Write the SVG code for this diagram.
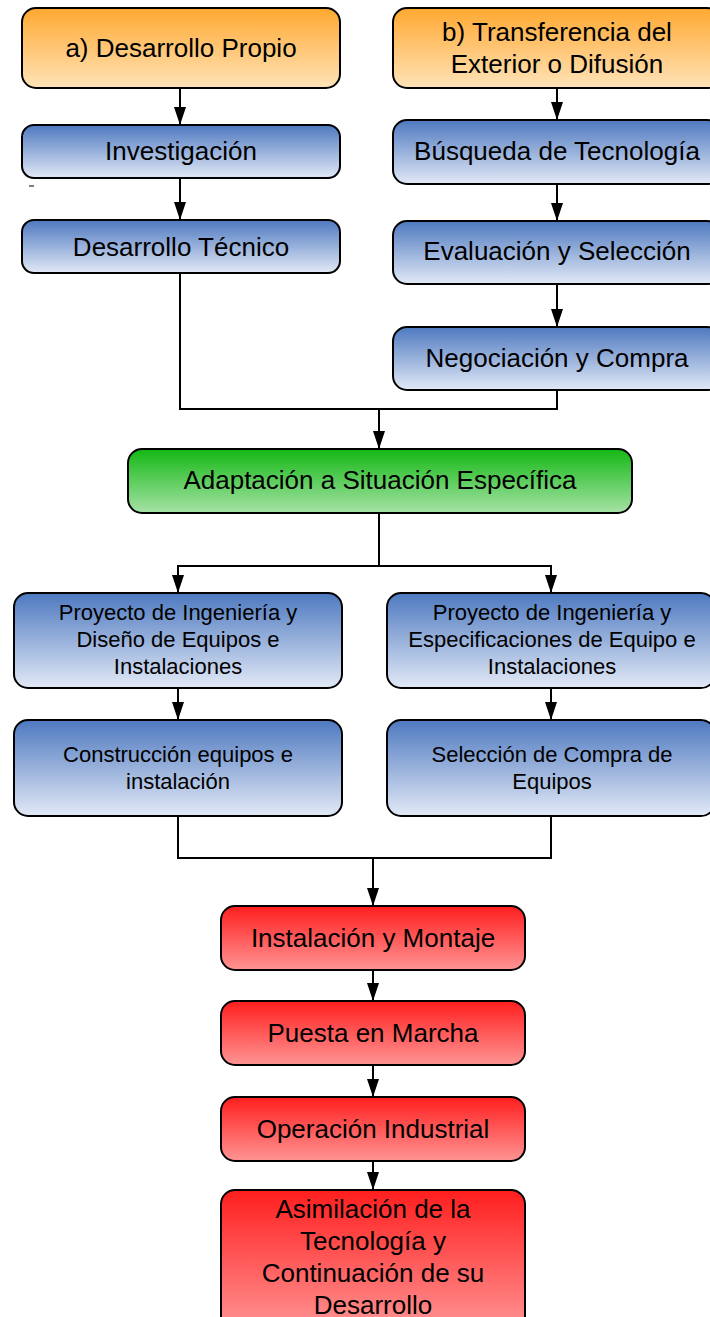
<svg xmlns="http://www.w3.org/2000/svg" width="710" height="1317" viewBox="0 0 710 1317">
<defs>
<linearGradient id="gO" x1="0" y1="0" x2="0" y2="1"><stop offset="0" stop-color="#FFA830"/><stop offset="1" stop-color="#FFE3B8"/></linearGradient>
<linearGradient id="gB" x1="0" y1="0" x2="0" y2="1"><stop offset="0" stop-color="#4E79C0"/><stop offset="1" stop-color="#E2E9F6"/></linearGradient>
<linearGradient id="gG" x1="0" y1="0" x2="0" y2="1"><stop offset="0" stop-color="#14B814"/><stop offset="1" stop-color="#A6E2A6"/></linearGradient>
<linearGradient id="gR" x1="0" y1="0" x2="0" y2="1"><stop offset="0" stop-color="#FF1E1E"/><stop offset="1" stop-color="#FF9494"/></linearGradient>
<marker id="arr" markerWidth="18" markerHeight="12" refX="18" refY="6" orient="auto" markerUnits="userSpaceOnUse" viewBox="0 0 18 12"><path d="M0,0 L18,6 L0,12 Z" fill="#000"/></marker>
</defs>
<style>
.box{stroke:#000;stroke-width:2}
.o{fill:url(#gO)}.b{fill:url(#gB)}.g{fill:url(#gG)}.r{fill:url(#gR)}
text{font-family:"Liberation Sans",Arial,sans-serif;fill:#000;text-anchor:middle}
.t{font-size:26px}.s{font-size:22px}
.c{fill:none;stroke:#000;stroke-width:2}
</style>
<rect width="710" height="1317" fill="#fff"/>
<g id="connectors">
<path class="c" d="M180,88 V125" marker-end="url(#arr)"/>
<path class="c" d="M180,178 V220" marker-end="url(#arr)"/>
<path class="c" d="M557,88 V120" marker-end="url(#arr)"/>
<path class="c" d="M557,184 V221" marker-end="url(#arr)"/>
<path class="c" d="M557,284 V327" marker-end="url(#arr)"/>
<path class="c" d="M180,273 V409 H557 V390"/>
<path class="c" d="M379,409 V449" marker-end="url(#arr)"/>
<path class="c" d="M379,513 V566 H178 V593" marker-end="url(#arr)"/>
<path class="c" d="M379,566 H551 V593" marker-end="url(#arr)"/>
<path class="c" d="M178,688 V720" marker-end="url(#arr)"/>
<path class="c" d="M551,688 V720" marker-end="url(#arr)"/>
<path class="c" d="M178,816 V858 H551 V816"/>
<path class="c" d="M373,858 V906" marker-end="url(#arr)"/>
<path class="c" d="M373,970 V1001" marker-end="url(#arr)"/>
<path class="c" d="M373,1065 V1097" marker-end="url(#arr)"/>
<path class="c" d="M373,1161 V1190" marker-end="url(#arr)"/>
<line x1="29" y1="186" x2="34" y2="186" stroke="#000" stroke-width="1"/>
</g>
<g id="n1"><rect class="box o" x="22" y="8" width="318" height="80" rx="14"/><text class="t" x="181" y="57">a) Desarrollo Propio</text></g>
<g id="n2"><rect class="box b" x="22" y="125" width="318" height="53" rx="12"/><text class="t" x="181" y="160">Investigación</text></g>
<g id="n3"><rect class="box b" x="22" y="220" width="318" height="53" rx="12"/><text class="t" x="181" y="256">Desarrollo Técnico</text></g>
<g id="n4"><rect class="box o" x="393" y="8" width="328" height="80" rx="14"/><text class="t" x="557" y="41">b) Transferencia del</text><text class="t" x="557" y="73">Exterior o Difusión</text></g>
<g id="n5"><rect class="box b" x="393" y="120" width="328" height="64" rx="14"/><text class="t" x="557" y="160">Búsqueda de Tecnología</text></g>
<g id="n6"><rect class="box b" x="393" y="221" width="328" height="63" rx="14"/><text class="t" x="557" y="260">Evaluación y Selección</text></g>
<g id="n7"><rect class="box b" x="393" y="327" width="328" height="63" rx="14"/><text class="t" x="557" y="367">Negociación y Compra</text></g>
<g id="n8"><rect class="box g" x="128" y="449" width="504" height="64" rx="14"/><text class="t" x="380" y="489">Adaptación a Situación Específica</text></g>
<g id="n9"><rect class="box b" x="14" y="593" width="328" height="95" rx="14"/><text class="s" x="178" y="620">Proyecto de Ingeniería y</text><text class="s" x="178" y="647">Diseño de Equipos e</text><text class="s" x="178" y="674">Instalaciones</text></g>
<g id="n10"><rect class="box b" x="387" y="593" width="328" height="95" rx="14"/><text class="s" x="552" y="620">Proyecto de Ingeniería y</text><text class="s" x="552" y="647">Especificaciones de Equipo e</text><text class="s" x="552" y="674">Instalaciones</text></g>
<g id="n11"><rect class="box b" x="14" y="720" width="328" height="96" rx="14"/><text class="s" x="178" y="762">Construcción equipos e</text><text class="s" x="178" y="789">instalación</text></g>
<g id="n12"><rect class="box b" x="387" y="720" width="328" height="96" rx="14"/><text class="s" x="552" y="762">Selección de Compra de</text><text class="s" x="552" y="789">Equipos</text></g>
<g id="n13"><rect class="box r" x="221" y="906" width="304" height="64" rx="14"/><text class="t" x="373" y="947">Instalación y Montaje</text></g>
<g id="n14"><rect class="box r" x="221" y="1001" width="304" height="64" rx="14"/><text class="t" x="373" y="1042">Puesta en Marcha</text></g>
<g id="n15"><rect class="box r" x="221" y="1097" width="304" height="64" rx="14"/><text class="t" x="373" y="1138">Operación Industrial</text></g>
<g id="n16"><rect class="box r" x="221" y="1190" width="304" height="140" rx="14"/><text class="t" x="373" y="1218">Asimilación de la</text><text class="t" x="373" y="1250">Tecnología y</text><text class="t" x="373" y="1282">Continuación de su</text><text class="t" x="373" y="1314">Desarrollo</text></g>
</svg>
